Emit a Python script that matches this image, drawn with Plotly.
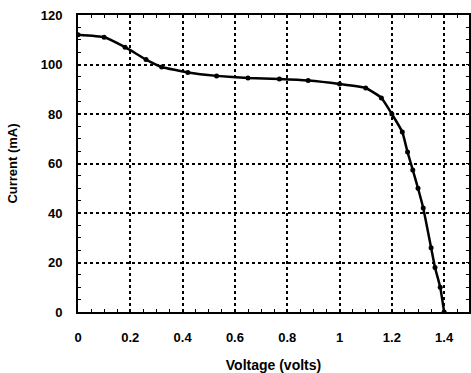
import plotly.graph_objects as go

voltage = [0, 0.1, 0.18, 0.26, 0.32, 0.42, 0.53, 0.65, 0.77, 0.88, 1.0, 1.1, 1.16,
           1.2, 1.24, 1.26, 1.28, 1.3, 1.32, 1.35, 1.365, 1.385, 1.4]
current = [112, 111, 107, 102, 99, 96.8, 95.4, 94.5, 94.1, 93.5, 92.1, 90.5, 86.5,
           80, 72.7, 64.6, 57.4, 50, 42, 26, 18, 10, 0]

x_ticks = [0, 0.2, 0.4, 0.6, 0.8, 1, 1.2, 1.4]
y_ticks = [0, 20, 40, 60, 80, 100, 120]

font = dict(family="Liberation Sans, Arial, sans-serif", size=13, color="black")

fig = go.Figure()
fig.add_trace(go.Scatter(
    x=voltage, y=current, mode="lines+markers",
    line=dict(color="black", width=2.5, shape="spline", smoothing=0.4),
    marker=dict(color="black", size=5),
    showlegend=False,
))

fig.update_layout(
    width=471, height=373,
    margin=dict(l=78, r=0, t=15, b=61),
    paper_bgcolor="white", plot_bgcolor="white",
    font=font,
)
fig.update_xaxes(
    range=[0, 1.495], tickvals=x_ticks,
    ticktext=[f"<b>{v:g}</b>" for v in x_ticks],
    showgrid=True, gridcolor="black", griddash="dot", gridwidth=1.5,
    showline=True, linecolor="black", linewidth=2, mirror="ticks",
    ticks="inside", ticklen=3, tickcolor="black",
    minor=dict(dtick=0.05, ticks="inside", ticklen=3, tickcolor="black", showgrid=False),
    zeroline=False, ticklabelstandoff=12,
    title=dict(text="<b>Voltage (volts)</b>", font=dict(size=14), standoff=19),
)
fig.update_yaxes(
    range=[0, 120], tickvals=y_ticks,
    ticktext=[f"<b>{v}</b>" for v in y_ticks],
    showgrid=True, gridcolor="black", griddash="dot", gridwidth=1.5,
    showline=True, linecolor="black", linewidth=2, mirror="ticks",
    ticks="inside", ticklen=3, tickcolor="black",
    minor=dict(dtick=5, ticks="inside", ticklen=3, tickcolor="black", showgrid=False),
    zeroline=False, ticklabelstandoff=11,
    title=dict(text="<b>Current (mA)</b>", font=dict(size=13), standoff=20),
)

fig.write_html("out.html")
